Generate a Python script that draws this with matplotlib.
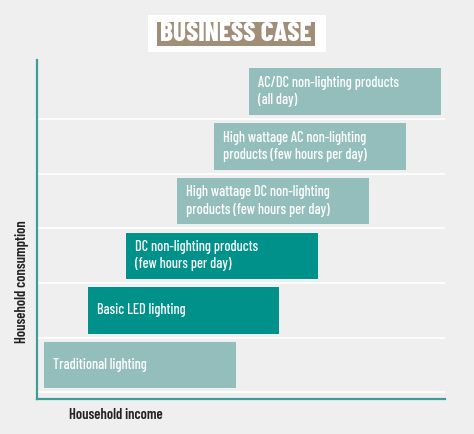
import matplotlib.pyplot as plt
from matplotlib.patches import Rectangle

plt.rcParams['font.family'] = ['Barlow Condensed', 'DejaVu Sans']

# income range where each product group starts, and its span (arbitrary units)
labels = ['Traditional lighting',
          'Basic LED lighting',
          'DC non-lighting products\n(few hours per day)',
          'High wattage DC non-lighting\nproducts (few hours per day)',
          'High wattage AC non-lighting\nproducts (few hours per day)',
          'AC/DC non-lighting products\n(all day)']
starts = [1.7, 12.5, 21.8, 34.3, 43.4, 52.0]
widths = [47.1, 46.8, 47.1, 47.1, 47.1, 47.1]
dark = [False, True, True, False, False, False]

light_c = '#94bebb'
dark_c = '#00918a'
bg = '#efefef'
line_c = '#3d9e97'

fig = plt.figure(figsize=(4.74, 4.34), dpi=100)
fig.patch.set_facecolor(bg)

W, H = 474, 434
ax = fig.add_axes([37 / W, 1 - 399 / H, 408 / W, 339 / H])
ax.set_facecolor(bg)
ax.set_xlim(0, 100)
ax.set_ylim(-0.62, 5.58)

for g in [-0.5, 0.5, 1.5, 2.5, 3.5, 4.5]:
    ax.axhline(g, color='white', lw=1.2, zorder=1)

for i, (lab, s, w, d) in enumerate(zip(labels, starts, widths, dark)):
    ax.barh(i, w, left=s, height=0.85, color=dark_c if d else light_c, zorder=2)
    ax.text(s + 2.2, i, lab, color='white', fontsize=10.3, fontweight=500,
            ha='left', va='center', linespacing=1.3, zorder=3)

for sp in ['top', 'right']:
    ax.spines[sp].set_visible(False)
for sp in ['left', 'bottom']:
    ax.spines[sp].set_color(line_c)
    ax.spines[sp].set_linewidth(1.6)
ax.set_xticks([])
ax.set_yticks([])

fig.text(69 / W, 1 - 415 / H, 'Household income', fontsize=10.5, fontweight=600,
         color='#222222', ha='left', va='center')
fig.text(22 / W, 1 - 282 / H, 'Household consumption', fontsize=10.5, fontweight=600,
         color='#222222', rotation=90, ha='center', va='center')

# title badge
fig.patches.append(Rectangle((148 / W, 1 - 52 / H), 178 / W, 37 / H,
                             transform=fig.transFigure, facecolor='white', edgecolor='none'))
fig.patches.append(Rectangle((157 / W, 1 - 46 / H), 158 / W, 24 / H,
                             transform=fig.transFigure, facecolor='#a08e78', edgecolor='none'))
fig.text(236 / W, 1 - 34 / H, 'BUSINESS CASE', fontsize=19.5, fontweight=800,
         color='white', ha='center', va='center')

fig.savefig('out.png', dpi=100, facecolor=bg)
